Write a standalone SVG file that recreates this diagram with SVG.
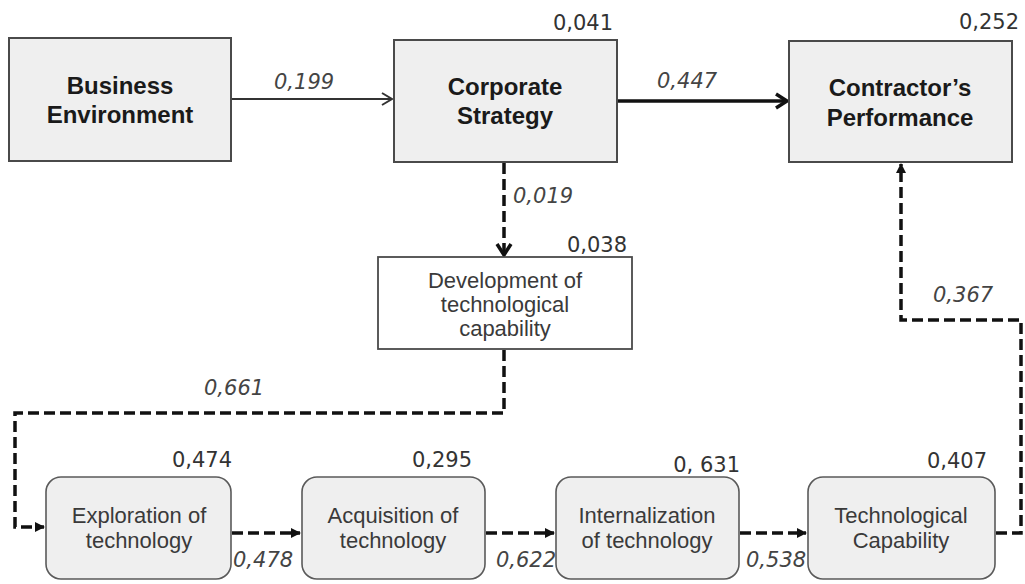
<svg xmlns="http://www.w3.org/2000/svg" width="1025" height="584" viewBox="0 0 1025 584">
<style>
.box{fill:#efefef;stroke:#4a4a4a;stroke-width:2}
.wbox{fill:#ffffff;stroke:#4a4a4a;stroke-width:1.8}
.rbox{fill:#efefef;stroke:#5a5a5a;stroke-width:1.6}
.title{font-family:"Liberation Sans",Arial,sans-serif;font-weight:bold;font-size:24px;fill:#1a1a1a;text-anchor:middle}
.lbl{font-family:"Liberation Sans",Arial,sans-serif;font-size:22px;fill:#3a3a3a;text-anchor:middle}
.num{font-family:"DejaVu Sans",sans-serif;font-size:21px;fill:#333;text-anchor:end}
.coef{font-family:"DejaVu Sans",sans-serif;font-style:italic;font-size:21px;fill:#444}
.dash{fill:none;stroke:#111;stroke-width:3.5;stroke-dasharray:11 5}
</style>
<defs>
<marker id="chev" markerUnits="userSpaceOnUse" markerWidth="14" markerHeight="16" refX="11" refY="7" orient="auto" overflow="visible">
<path d="M1,1 L11,7 L1,13" fill="none" stroke="#333" stroke-width="2"/>
</marker>
<marker id="chevB" markerUnits="userSpaceOnUse" markerWidth="16" markerHeight="18" refX="12" refY="8" orient="auto" overflow="visible">
<path d="M1,1 L12,8 L1,15" fill="none" stroke="#111" stroke-width="3.5"/>
</marker>
<marker id="tri" markerUnits="userSpaceOnUse" markerWidth="10" markerHeight="10" refX="9" refY="5" orient="auto" overflow="visible">
<path d="M0,0 L10,5 L0,10 z" fill="#111"/>
</marker>
</defs>

<g id="connectors">
<path d="M231,99 H392" fill="none" stroke="#333" stroke-width="2" marker-end="url(#chev)"/>
<path d="M617,101 H787" fill="none" stroke="#111" stroke-width="3.5" marker-end="url(#chevB)"/>
<path class="dash" d="M504,163 V255" marker-end="url(#chevB)"/>
<path class="dash" d="M504,350 V413 H15 V527 H44" marker-end="url(#tri)"/>
<path class="dash" d="M232,533 H300" marker-end="url(#tri)"/>
<path class="dash" d="M486,533 H554" marker-end="url(#tri)"/>
<path class="dash" d="M740,533 H806" marker-end="url(#tri)"/>
<path class="dash" d="M996,533 H1021 V320 H901 V164" marker-end="url(#tri)"/>
<text class="coef" x="274" y="89">0,199</text>
<text class="coef" x="657" y="88">0,447</text>
<text class="coef" x="513" y="203">0,019</text>
<text class="coef" x="204" y="395">0,661</text>
<text class="coef" x="233" y="567">0,478</text>
<text class="coef" x="556" y="567" text-anchor="end">0,622</text>
<text class="coef" x="746" y="567">0,538</text>
<text class="coef" x="933" y="302">0,367</text>
</g>

<g id="business-environment">
<rect class="box" x="9" y="38" width="222" height="123"/>
<text class="title" x="120" y="94">Business</text>
<text class="title" x="120" y="123">Environment</text>
</g>

<g id="corporate-strategy">
<rect class="box" x="394" y="40" width="223" height="122"/>
<text class="title" x="505" y="95">Corporate</text>
<text class="title" x="505" y="124">Strategy</text>
<text class="num" x="613" y="30">0,041</text>
</g>

<g id="contractors-performance">
<rect class="box" x="789" y="41" width="223" height="121"/>
<text class="title" x="900" y="96">Contractor’s</text>
<text class="title" x="900" y="126">Performance</text>
<text class="num" x="1019" y="29">0,252</text>
</g>

<g id="development">
<rect class="wbox" x="378" y="257" width="254" height="92"/>
<text class="lbl" x="505" y="288">Development of</text>
<text class="lbl" x="505" y="312">technological</text>
<text class="lbl" x="505" y="336">capability</text>
<text class="num" x="627" y="252">0,038</text>
</g>

<g id="exploration">
<rect class="rbox" x="46" y="477" width="185" height="102" rx="15" ry="15"/>
<text class="lbl" x="139" y="523">Exploration of</text>
<text class="lbl" x="139" y="548">technology</text>
<text class="num" x="232" y="467">0,474</text>
</g>

<g id="acquisition">
<rect class="rbox" x="302" y="477" width="183" height="102" rx="15" ry="15"/>
<text class="lbl" x="393" y="523">Acquisition of</text>
<text class="lbl" x="393" y="548">technology</text>
<text class="num" x="472" y="467">0,295</text>
</g>

<g id="internalization">
<rect class="rbox" x="556" y="477" width="183" height="102" rx="15" ry="15"/>
<text class="lbl" x="647" y="523">Internalization</text>
<text class="lbl" x="647" y="548">of technology</text>
<text class="num" x="740" y="472">0, 631</text>
</g>

<g id="technological-capability">
<rect class="rbox" x="808" y="477" width="187" height="102" rx="15" ry="15"/>
<text class="lbl" x="901" y="523">Technological</text>
<text class="lbl" x="901" y="548">Capability</text>
<text class="num" x="987" y="468">0,407</text>
</g>
</svg>
